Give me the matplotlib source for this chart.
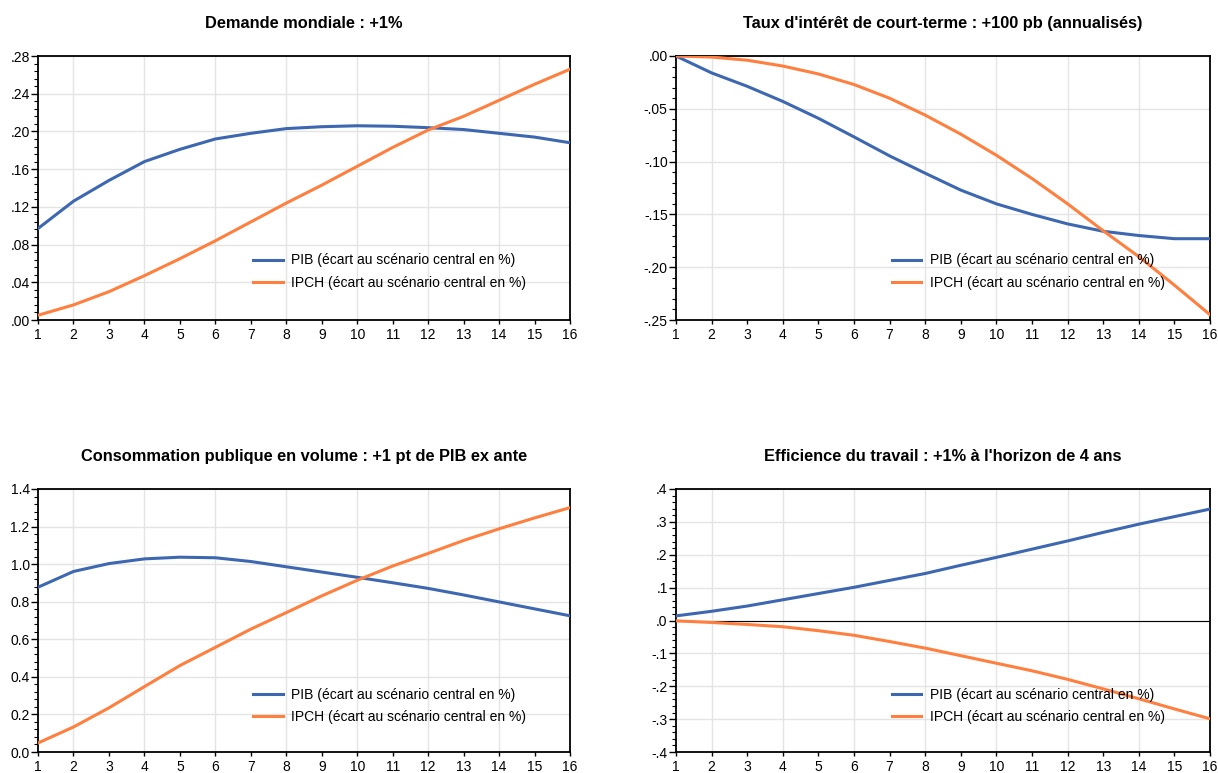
import matplotlib
matplotlib.use("Agg")
import matplotlib.pyplot as plt
from matplotlib.ticker import MultipleLocator, FuncFormatter, AutoMinorLocator, FixedLocator

plt.rcParams['font.family'] = ['Liberation Sans', 'DejaVu Sans']

quarters = list(range(1, 17))

titles = [
    "Demande mondiale : +1%",
    "Taux d'intérêt de court-terme : +100 pb (annualisés)",
    "Consommation publique en volume : +1 pt de PIB ex ante",
    "Efficience du travail : +1% à l'horizon de 4 ans",
]
label_pib = "PIB (écart au scénario central en %)"
label_ipch = "IPCH (écart au scénario central en %)"

pib_demande = [0.097, 0.126, 0.148, 0.168, 0.181, 0.192, 0.198, 0.203, 0.205, 0.206,
               0.2055, 0.204, 0.202, 0.198, 0.194, 0.188]
ipch_demande = [0.005, 0.016, 0.030, 0.047, 0.065, 0.084, 0.104, 0.124, 0.143, 0.163,
                0.183, 0.2015, 0.216, 0.233, 0.250, 0.266]

pib_taux = [0.0, -0.016, -0.0287, -0.043, -0.059, -0.0766, -0.0946, -0.111, -0.127, -0.140,
            -0.150, -0.159, -0.166, -0.170, -0.173, -0.173]
ipch_taux = [0.0, -0.001, -0.004, -0.0095, -0.017, -0.027, -0.040, -0.056, -0.074, -0.094,
             -0.116, -0.140, -0.1655, -0.190, -0.217, -0.245]

pib_conso = [0.877, 0.961, 1.003, 1.028, 1.037, 1.034, 1.014, 0.986, 0.958, 0.930,
             0.901, 0.871, 0.836, 0.799, 0.762, 0.725]
ipch_conso = [0.048, 0.133, 0.235, 0.348, 0.460, 0.557, 0.654, 0.742, 0.831, 0.914,
              0.990, 1.057, 1.126, 1.188, 1.246, 1.301]

pib_effic = [0.014, 0.028, 0.044, 0.063, 0.082, 0.101, 0.122, 0.143, 0.168, 0.192,
             0.217, 0.242, 0.268, 0.293, 0.316, 0.339]
ipch_effic = [-0.001, -0.006, -0.012, -0.019, -0.031, -0.045, -0.064, -0.084, -0.107, -0.130,
              -0.153, -0.179, -0.208, -0.238, -0.269, -0.299]

series = [(pib_demande, ipch_demande), (pib_taux, ipch_taux),
          (pib_conso, ipch_conso), (pib_effic, ipch_effic)]
ylims = [(0.0, 0.28), (-0.25, 0.0), (0.0, 1.4), (-0.4, 0.4)]
ysteps = [0.04, 0.05, 0.2, 0.1]
ydecimals = [2, 2, 1, 1]
strip_zero = [True, True, False, True]

BLUE = "#3D68B1"
ORANGE = "#FF7F3F"

W, H = 1218, 773
fig = plt.figure(figsize=(W / 100, H / 100), dpi=100)

# pixel boxes (left, right, top, bottom)
boxes = [(38, 570, 56, 320), (676, 1210, 56, 320),
         (38, 570, 489, 752), (676, 1210, 489, 752)]


def make_fmt(dec, strip):
    def f(v, pos):
        s = f"{v:.{dec}f}"
        if s.startswith("-") and float(s) == 0:
            s = s[1:]
        if strip:
            if s.startswith("0."):
                s = s[1:]
            elif s.startswith("-0."):
                s = "-" + s[2:]
        return s
    return f


for i, (box, (pib, ipch)) in enumerate(zip(boxes, series)):
    l, r, t, b = box
    ax = fig.add_axes([l / W, (H - b) / H, (r - l) / W, (b - t) / H])
    ax.set_xlim(1, 16)
    ax.set_ylim(*ylims[i])
    ax.yaxis.set_major_locator(MultipleLocator(ysteps[i]))
    ax.yaxis.set_minor_locator(AutoMinorLocator(5))
    ax.yaxis.set_major_formatter(FuncFormatter(make_fmt(ydecimals[i], strip_zero[i])))
    ax.xaxis.set_major_locator(FixedLocator(quarters))
    ax.set_xticklabels([str(q) for q in quarters])

    # grid
    for xg in range(2, 16, 2):
        ax.axvline(xg, color="#e4e4e4", lw=1.0, zorder=0)
    ax.grid(axis="y", which="major", color="#e4e4e4", lw=1.0, zorder=0)
    ax.set_axisbelow(True)

    if i == 3:
        ax.axhline(0, color="black", lw=0.8, zorder=1)

    ax.plot(quarters, pib, color=BLUE, lw=2.2, label=label_pib, zorder=3)
    ax.plot(quarters, ipch, color=ORANGE, lw=2.2, label=label_ipch, zorder=3)

    for sp in ax.spines.values():
        sp.set_linewidth(1.3)
        sp.set_color("black")

    ax.tick_params(axis="y", which="major", direction="out", length=5, width=1,
                   labelsize=10, pad=1)
    ax.tick_params(axis="y", which="minor", direction="out", length=3, width=0.8)
    ax.tick_params(axis="x", which="major", direction="out", length=3, width=1,
                   labelsize=10, pad=2.5)

    ax.set_title(titles[i], fontsize=11.8, fontweight="bold", pad=20)

    leg_top = 0.252 if i < 2 else 0.245
    ax.legend(loc="upper left", bbox_to_anchor=(0.405, leg_top), frameon=False,
              fontsize=10, handlelength=2.1, handletextpad=0.6, labelspacing=0.58,
              borderpad=0, borderaxespad=0)

fig.savefig("out.png", dpi=100)
